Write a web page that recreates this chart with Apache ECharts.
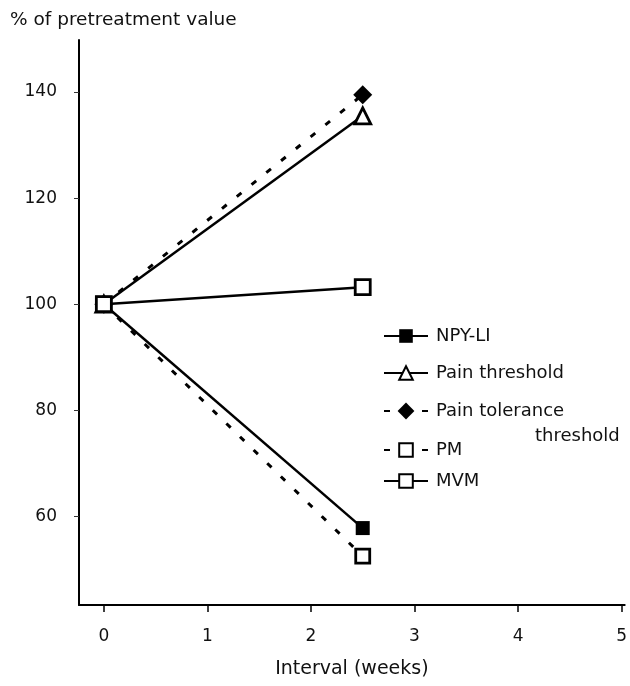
<!DOCTYPE html>
<html>
<head>
<meta charset="utf-8">
<script src="https://cdn.jsdelivr.net/npm/echarts@6.0.0/dist/echarts.min.js"></script>
<style>
  html, body { margin: 0; padding: 0; background: #fff; }
  #root { width: 630px; height: 686px; }
</style>
</head>
<body>
<div id="root"></div>
<script>
// weeks after start of treatment
const weeks = [0, 2.5];

const npyLi = [100, 57.8];
const painThreshold = [100, 135.5];
const painTolerance = [100, 139.5];
const pm = [100, 52.5];
const mvm = [100, 103.2];

const xTicks = [0, 1, 2, 3, 4, 5];
const yTicks = [60, 80, 100, 120, 140];

const font = 'DejaVu Sans, Verdana, sans-serif';

const pairs = vals => weeks.map((w, i) => [w, vals[i]]);

const makeSeries = (name, vals, symbol, size, filled, dashed) => ({
  name,
  type: 'line',
  data: pairs(vals),
  symbol,
  symbolSize: size,
  showSymbol: true,
  lineStyle: { color: '#000', width: dashed ? 3 : 2.5, type: dashed ? [6, 13] : 'solid' },
  itemStyle: { color: filled ? '#000' : '#fff', borderColor: '#000', borderWidth: filled ? 0 : 2.8 },
  emphasis: { disabled: true },
});

// name, top, icon height
const legendRows = [
  ['NPY-LI', 322, 17],
  ['Pain threshold', 359, 17],
  ['Pain tolerance threshold', 397, 21],
  ['PM', 436, 17],
  ['MVM', 467, 17],
];

const chart = echarts.init(document.getElementById('root'));
chart.setOption({
  backgroundColor: '#fff',
  animation: false,
  grid: { left: 79, top: 40, width: 549, height: 565, containLabel: false },
  xAxis: {
    type: 'value',
    min: -0.24,
    max: 5.03,
    name: 'Interval (weeks)',
    nameLocation: 'middle',
    nameGap: 55,
    nameTextStyle: { fontFamily: font, fontSize: 19, color: '#111' },
    splitLine: { show: false },
    axisLine: { onZero: false, lineStyle: { color: '#000', width: 2 } },
    axisTick: { show: true, length: 7, customValues: xTicks, lineStyle: { color: '#000', width: 1.5 } },
    axisLabel: { customValues: xTicks, margin: 23, fontFamily: font, fontSize: 17, color: '#111' },
  },
  yAxis: {
    type: 'value',
    min: 43.3,
    max: 149.8,
    name: '% of pretreatment value',
    nameLocation: 'end',
    nameGap: 10,
    nameTextStyle: { fontFamily: font, fontSize: 18.5, color: '#111', align: 'left', padding: [0, 0, 0, -69] },
    splitLine: { show: false },
    axisLine: { onZero: false, lineStyle: { color: '#000', width: 2 } },
    axisTick: { show: true, length: 5, customValues: yTicks, lineStyle: { color: '#333', width: 1 } },
    axisLabel: { customValues: yTicks, margin: 22, fontFamily: font, fontSize: 17, color: '#111' },
  },
  legend: legendRows.map(([name, top, h]) => ({
    data: [name],
    left: 378,
    top,
    itemWidth: 44,
    itemHeight: h,
    itemGap: 0,
    selectedMode: false,
    formatter: n => (n === 'Pain tolerance threshold' ? 'Pain tolerance' : n),
    textStyle: { fontFamily: font, fontSize: 18, color: '#111', padding: [0, 0, 0, 3] },
  })),
  graphic: [{
    type: 'text',
    left: 535,
    top: 427,
    style: { text: 'threshold', fontFamily: font, fontSize: 18, fill: '#111' },
  }],
  series: [
    makeSeries('NPY-LI', npyLi, 'rect', 14, true, false),
    makeSeries('Pain tolerance threshold', painTolerance, 'diamond', 19, true, true),
    makeSeries('Pain threshold', painThreshold, 'triangle', 16, false, false),
    makeSeries('PM', pm, 'rect', 14, false, true),
    makeSeries('MVM', mvm, 'rect', 15, false, false),
  ],
});
</script>
</body>
</html>
